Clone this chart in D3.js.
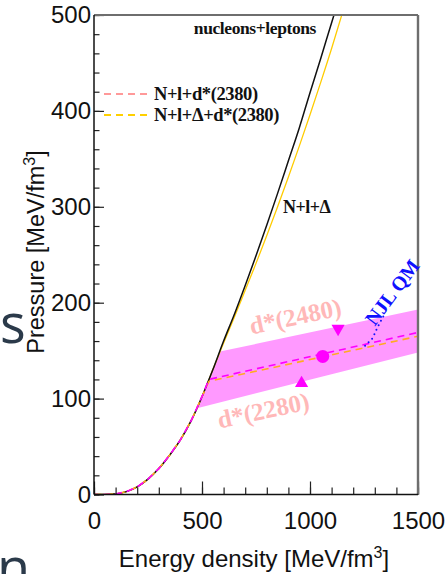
<!DOCTYPE html>
<html>
<head>
<meta charset="utf-8">
<script src="https://cdn.jsdelivr.net/npm/d3@7"></script>
<style>
  body { margin: 0; background: #fff; }
  svg { display: block; }
</style>
</head>
<body>
<div id="chart"></div>
<script>
// nucleons+leptons (black)
const energyNL = [0, 50, 100, 150, 200, 250, 300, 350, 400, 450, 500, 550, 600, 650, 700, 750, 800, 850, 900, 950, 1000, 1050, 1100, 1111];
const pressureNL = [0, 0, 0.5, 3, 8, 16, 27, 41, 57, 77, 102, 130, 160, 188, 218, 249, 281, 314, 348, 382, 419, 455, 492, 500];

// N+l+Delta (yellow)
const energyND = [0, 50, 100, 150, 200, 250, 300, 350, 400, 450, 500, 550, 600, 650, 700, 750, 800, 850, 900, 950, 1000, 1050, 1100, 1147];
const pressureND = [0, 0, 0.5, 3, 8, 16, 27, 41, 57, 77, 102, 130, 158, 185, 213, 241, 270, 300, 331, 363, 396, 430, 465, 500];

// N+l+d*(2380) (magenta dashed) and N+l+Delta+d*(2380) (orange dashed)
const energyDstar = [0, 50, 100, 150, 200, 250, 300, 350, 400, 450, 500, 532, 1500];
const pressureDstar = [0, 0, 0.5, 3, 8, 16, 27, 41, 57, 77, 102, 120, 169];
const pressureDstarDelta = [0, 0, 0.5, 3, 8, 16, 27, 41, 57, 77, 102, 118, 165];

// d* mass band 2280..2480
const bandE = [477, 500, 550, 583, 1500, 1500];
const bandP = [90, 102, 130, 149, 193, 148];

// NJL quark matter (blue dotted)
const energyNJL = [1255, 1290, 1312, 1340];
const pressureNJL = [155, 163, 174, 186];

// markers
const markerDown = [1130, 173];
const markerUp = [961, 116];
const markerDot = [1059, 144];

const xMajor = [0, 500, 1000, 1500];
const yMajor = [0, 100, 200, 300, 400, 500];

const W = 446, H = 574;
const svg = d3.select("#chart").append("svg").attr("width", W).attr("height", H);

const x = d3.scaleLinear().domain([0, 1500]).range([94, 418]);
const y = d3.scaleLinear().domain([0, 500]).range([494.5, 15]);

svg.append("defs").append("clipPath").attr("id", "plot")
  .append("rect")
  .attr("x", x(0)).attr("y", y(500))
  .attr("width", x(1500) - x(0)).attr("height", y(0) - y(500));

const g = svg.append("g").attr("clip-path", "url(#plot)");

// band
const bandPts = bandE.map((e, i) => [x(e), y(bandP[i])]);
g.append("path")
  .attr("d", d3.line()(bandPts) + "Z")
  .attr("fill", "#ff99ff");

const smooth = d3.line().x((d) => x(d[0])).y((d) => y(d[1])).curve(d3.curveMonotoneX);
const straight = d3.line().x((d) => x(d[0])).y((d) => y(d[1]));
const zip = (a, b) => a.map((v, i) => [v, b[i]]);

g.append("path").attr("d", smooth(zip(energyND, pressureND)))
  .attr("fill", "none").attr("stroke", "#ffcc00").attr("stroke-width", 1.3);
g.append("path").attr("d", smooth(zip(energyNL, pressureNL)))
  .attr("fill", "none").attr("stroke", "#111").attr("stroke-width", 1.5);

g.append("path").attr("d", straight(zip(energyDstar, pressureDstarDelta)))
  .attr("fill", "none").attr("stroke", "#ffaa22").attr("stroke-width", 1.6)
  .attr("stroke-dasharray", "7,5");
g.append("path").attr("d", straight(zip(energyDstar, pressureDstar)))
  .attr("fill", "none").attr("stroke", "#ff00ff").attr("stroke-width", 1.6)
  .attr("stroke-dasharray", "7,5").attr("stroke-dashoffset", 3);

g.append("path").attr("d", straight(zip(energyNJL, pressureNJL)))
  .attr("fill", "none").attr("stroke", "#1010ff").attr("stroke-width", 2)
  .attr("stroke-linecap", "round").attr("stroke-dasharray", "0,5");

// markers
g.append("path")
  .attr("d", d3.symbol(d3.symbolTriangle, 75)())
  .attr("transform", `translate(${x(markerDown[0])},${y(markerDown[1])}) rotate(180)`)
  .attr("fill", "#ff00ff");
g.append("path")
  .attr("d", d3.symbol(d3.symbolTriangle, 75)())
  .attr("transform", `translate(${x(markerUp[0])},${y(markerUp[1])})`)
  .attr("fill", "#ff00ff");
g.append("circle")
  .attr("cx", x(markerDot[0])).attr("cy", y(markerDot[1])).attr("r", 6.5)
  .attr("fill", "#ff00ff");

// axes
const sans = "'Liberation Sans', Arial, Helvetica, sans-serif";
const serif = "'Liberation Serif', 'Times New Roman', serif";

const xAxisMinor = d3.axisBottom(x).tickValues(d3.range(0, 1501, 100)).tickSize(-7).tickFormat("");
const xAxis = d3.axisBottom(x).tickValues(xMajor).tickSize(-13).tickPadding(17).tickFormat(d3.format("d"));
const yAxisMinor = d3.axisLeft(y).tickValues(d3.range(0, 501, 20)).tickSize(-5.5).tickFormat("");
const yAxis = d3.axisLeft(y).tickValues(yMajor).tickSize(-10).tickPadding(3).tickFormat(d3.format("d"));

[xAxisMinor, xAxis].forEach((a) => {
  svg.append("g").attr("transform", `translate(0,${y(0)})`).call(a)
    .call((s) => s.select(".domain").remove())
    .call((s) => s.selectAll("line").attr("stroke", "#222").attr("stroke-width", 1.2));
});
[yAxisMinor, yAxis].forEach((a) => {
  svg.append("g").attr("transform", `translate(${x(0)},0)`).call(a)
    .call((s) => s.select(".domain").remove())
    .call((s) => s.selectAll("line").attr("stroke", "#222").attr("stroke-width", 1.2));
});
svg.selectAll(".tick text")
  .attr("font-family", sans).attr("font-size", 24).attr("fill", "#111");

// frame
svg.append("line").attr("x1", x(0)).attr("x2", x(1500)).attr("y1", y(500)).attr("y2", y(500))
  .attr("stroke", "#6e6e6e").attr("stroke-width", 2);
svg.append("line").attr("x1", x(1500)).attr("x2", x(1500)).attr("y1", y(500)).attr("y2", y(0))
  .attr("stroke", "#6e6e6e").attr("stroke-width", 2.4);
svg.append("line").attr("x1", x(0)).attr("x2", x(0)).attr("y1", y(500)).attr("y2", y(0))
  .attr("stroke", "#111").attr("stroke-width", 1.5);
svg.append("line").attr("x1", x(0)).attr("x2", x(1500)).attr("y1", y(0)).attr("y2", y(0))
  .attr("stroke", "#111").attr("stroke-width", 1.5);

// axis titles
const xt = svg.append("text").attr("x", 254).attr("y", 567)
  .attr("text-anchor", "middle").attr("font-family", sans).attr("font-size", 24).attr("fill", "#111");
xt.append("tspan").text("Energy density [MeV/fm");
xt.append("tspan").attr("dy", -9).attr("font-size", 16).text("3");
xt.append("tspan").attr("dy", 9).text("]");

const yt = svg.append("text").attr("transform", "translate(44,252) rotate(-90)")
  .attr("text-anchor", "middle").attr("font-family", sans).attr("font-size", 23.5).attr("fill", "#111");
yt.append("tspan").text("Pressure [MeV/fm");
yt.append("tspan").attr("dy", -9).attr("font-size", 16).text("3");
yt.append("tspan").attr("dy", 9).text("]");

// legend
const legend = [
  { label: "N+l+d*(2380)", color: "#ff9999", y: 94 },
  { label: "N+l+\u0394+d*(2380)", color: "#ffd000", y: 115 },
];
legend.forEach((d) => {
  svg.append("line").attr("x1", 104).attr("x2", 147).attr("y1", d.y).attr("y2", d.y)
    .attr("stroke", d.color).attr("stroke-width", 1.8).attr("stroke-dasharray", "7,5");
  svg.append("text").attr("x", 154).attr("y", d.y + 6)
    .attr("font-family", serif).attr("font-weight", "bold").attr("font-size", 18.5)
    .attr("letter-spacing", -0.4).attr("fill", "#111").text(d.label);
});

// curve labels
svg.append("text").attr("x", x(745)).attr("y", y(480)).attr("text-anchor", "middle")
  .attr("font-family", serif).attr("font-weight", "bold").attr("font-size", 17.5)
  .attr("letter-spacing", -0.4).attr("fill", "#111").text("nucleons+leptons");
svg.append("text").attr("x", x(875)).attr("y", y(294))
  .attr("font-family", serif).attr("font-weight", "bold").attr("font-size", 18)
  .attr("letter-spacing", -0.5).attr("fill", "#111").text("N+l+\u0394");

svg.append("text").attr("transform", `translate(${x(940)},${y(177)}) rotate(-12)`)
  .attr("text-anchor", "middle").attr("font-family", serif).attr("font-weight", "bold")
  .attr("font-size", 25).attr("fill", "#ffb8b8").text("d*(2480)");
svg.append("text").attr("transform", `translate(${x(792)},${y(79)}) rotate(-12)`)
  .attr("text-anchor", "middle").attr("font-family", serif).attr("font-weight", "bold")
  .attr("font-size", 25).attr("fill", "#ffb8b8").text("d*(2280)");

svg.append("text").attr("transform", `translate(${x(1300)},${y(175)}) rotate(-53)`)
  .attr("font-family", serif).attr("font-weight", "bold").attr("font-size", 20)
  .attr("fill", "#1010ff").text("NJL QM");

// slide text fragments at the left edge
svg.append("text").attr("x", 0).attr("y", 343)
  .attr("font-family", "'Open Sans', 'Noto Sans', sans-serif").attr("font-size", 54)
  .attr("fill", "#2b3a4a").text("s");
svg.append("text").attr("x", -3).attr("y", 587)
  .attr("font-family", "'Open Sans', 'Noto Sans', sans-serif").attr("font-size", 54)
  .attr("fill", "#2b3a4a").text("n");
</script>
</body>
</html>
